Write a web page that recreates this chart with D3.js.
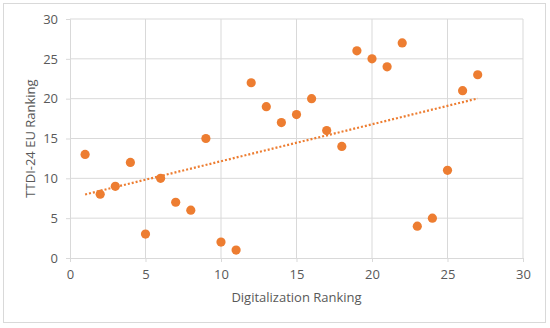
<!DOCTYPE html>
<html>
<head>
<meta charset="utf-8">
<script src="https://cdn.jsdelivr.net/npm/d3@7"></script>
<style>
  body { margin: 0; background: #fff; }
  text { font-family: "Open Sans", sans-serif; fill: #595959; }
</style>
</head>
<body>
<div id="chart"></div>
<script>
// digitalization ranking vs TTDI-24 EU ranking
const digitalRank = [1,2,3,4,5,6,7,8,9,10,11,12,13,14,15,16,17,18,19,20,21,22,23,24,25,26,27];
const ttdiRank    = [13,8,9,12,3,10,7,6,15,2,1,22,19,17,18,20,16,14,26,25,24,27,4,5,11,21,23];
const xTicks = [0,5,10,15,20,25,30];
const yTicks = [0,5,10,15,20,25,30];

const W = 550, H = 328;
const margin = {top: 19, right: 27, bottom: 70, left: 70};
const width = W - margin.left - margin.right,
      height = H - margin.top - margin.bottom;

const root = d3.select("#chart").append("svg")
    .attr("width", W).attr("height", H);

root.append("rect")
    .attr("x", 3.5).attr("y", 3.5)
    .attr("width", 542).attr("height", 319)
    .attr("fill", "#fff").attr("stroke", "#d9d9d9");

const svg = root.append("g")
    .attr("transform", "translate(" + margin.left + "," + margin.top + ")");

let x = d3.scaleLinear().domain([0, 30]).range([0, width]);
let y = d3.scaleLinear().domain([0, 30]).range([height, 0]);

// gridlines
svg.append("g").selectAll("line")
    .data(xTicks.slice(1))
    .enter().append("line")
    .attr("x1", d => x(d)).attr("x2", d => x(d))
    .attr("y1", 0).attr("y2", height)
    .attr("stroke", "#d9d9d9");
svg.append("g").selectAll("line")
    .data(yTicks.slice(1))
    .enter().append("line")
    .attr("x1", 0).attr("x2", width)
    .attr("y1", d => y(d)).attr("y2", d => y(d))
    .attr("stroke", "#d9d9d9");

// axes
const xAxis = svg.append("g")
    .attr("transform", "translate(0," + height + ")")
    .call(d3.axisBottom(x).tickValues(xTicks).tickSize(4).tickPadding(8));
const yAxis = svg.append("g")
    .call(d3.axisLeft(y).tickValues(yTicks).tickSize(4).tickPadding(8));
[xAxis, yAxis].forEach(a => {
    a.select(".domain").attr("stroke", "#d9d9d9");
    a.selectAll(".tick line").attr("stroke", "#d9d9d9");
    a.selectAll(".tick text").style("font-size", "13px").attr("fill", "#595959");
});

svg.append("text")
    .attr("x", width / 2)
    .attr("y", height + 44)
    .style("text-anchor", "middle")
    .style("font-size", "13px")
    .text("Digitalization Ranking");
svg.append("text")
    .attr("transform", "rotate(-90)")
    .attr("x", -(height / 2))
    .attr("y", -35)
    .style("text-anchor", "middle")
    .style("font-size", "13px")
    .text("TTDI-24 EU Ranking");

// linear trendline (least squares)
const mx = d3.mean(digitalRank), my = d3.mean(ttdiRank);
let sxy = 0, sxx = 0;
for (let i = 0; i < digitalRank.length; i++) {
    sxy += (digitalRank[i] - mx) * (ttdiRank[i] - my);
    sxx += (digitalRank[i] - mx) * (digitalRank[i] - mx);
}
const slope = sxy / sxx, icpt = my - slope * mx;
const x0 = d3.min(digitalRank), x1 = d3.max(digitalRank);
svg.append("line")
    .attr("x1", x(x0)).attr("y1", y(icpt + slope * x0))
    .attr("x2", x(x1)).attr("y2", y(icpt + slope * x1))
    .attr("stroke", "#ed7d31")
    .attr("stroke-width", 2.2)
    .attr("stroke-dasharray", "2,2");

// points
svg.selectAll("circle")
    .data(digitalRank.map((d, i) => ({x: d, y: ttdiRank[i]})))
    .enter().append("circle")
    .attr("cx", d => x(d.x))
    .attr("cy", d => y(d.y))
    .attr("r", 4.6)
    .attr("fill", "#ed7d31");
</script>
</body>
</html>
